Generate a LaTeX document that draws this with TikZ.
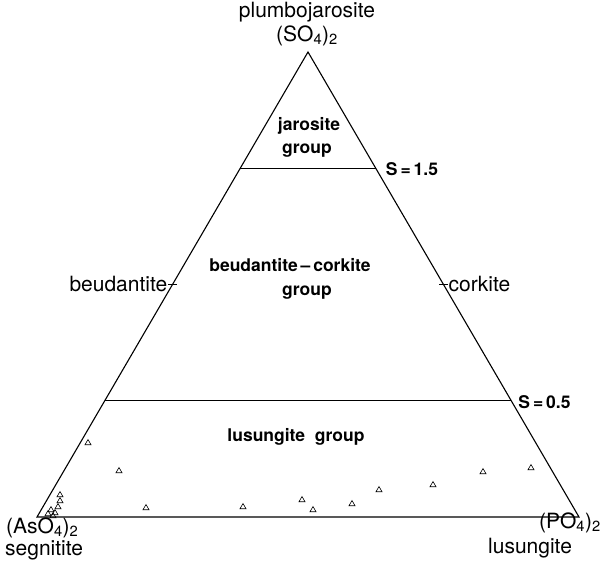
\documentclass[tikz,border=0pt]{standalone}
\usepackage{fontspec}
\setmainfont{TeX Gyre Heros}
\usetikzlibrary{calc}
\usetikzlibrary{positioning}
\usetikzlibrary{shapes}

\begin{document}
\begin{tikzpicture}[x=1pt, y=-1pt]

\def\LabelSize{\fontsize{21}{23}\selectfont}
\def\FieldSize{\fontsize{17.5}{20}\selectfont\bfseries}
\def\MarkSize{7pt}
\def\TickLength{4.5pt}

% Styles
\tikzstyle{corner} =
	[font=\LabelSize, inner sep=0pt]

\tikzstyle{field} =
	[font=\FieldSize, inner sep=0pt]

\tikzstyle{sample} =
	[draw, semithick, regular polygon, regular polygon sides=3,
	 minimum size=\MarkSize, inner sep=0pt]

\tikzstyle{boundary} =
	[line width=1.1pt, line join=miter]

\useasboundingbox (0,0) rectangle (603,561);

% Corners and field boundaries
\coordinate (AsO4) at (37,517);
\coordinate (PO4) at (579,517);
\coordinate (SO4) at (308,52);

\coordinate (S15W) at ($(SO4)!0.25!(AsO4)$);
\coordinate (S15E) at ($(SO4)!0.25!(PO4)$);
\coordinate (S05W) at ($(SO4)!0.75!(AsO4)$);
\coordinate (S05E) at ($(SO4)!0.75!(PO4)$);
\coordinate (Beu) at ($(AsO4)!0.5!(SO4)$);
\coordinate (Cor) at ($(PO4)!0.5!(SO4)$);

\draw[boundary] (AsO4) -- (PO4) -- (SO4) -- cycle;
\draw[boundary] (S15W) -- (S15E);
\draw[boundary] (S05W) -- (S05E);

\draw[thin] ([xshift=-\TickLength]Beu) -- ([xshift=\TickLength]Beu);
\draw[thin] ([xshift=-\TickLength]Cor) -- ([xshift=\TickLength]Cor);

% End members
\node (Plumbo) at (307,12) [corner] {plumbojarosite};
\node (SO4Label) [corner, below=3pt of Plumbo] {(SO\textsubscript{4})\textsubscript{2}};
\node (AsO4Label) at (6,528) [corner, anchor=west] {(AsO\textsubscript{4})\textsubscript{2}};
\node (Segnitite) at (5,550) [corner, anchor=west] {segnitite};
\node (PO4Label) at (601,523) [corner, anchor=east] {(PO\textsubscript{4})\textsubscript{2}};
\node (Lusungite) at (488,548) [corner, anchor=west] {lusungite};
\node (Beudantite) [corner, left=5pt of Beu] {beudantite};
\node (Corkite) [corner, right=5pt of Cor] {corkite};

% Fields
\node (Jarosite) at (309,126) [field] {jarosite};
\node (JarositeGroup) at (307,151) [field] {group};
\node (BeuCor) at (290,265) [field] {beudantite\,--\,corkite};
\node (BeuCorGroup) at (307,293) [field] {group};
\node (LusGroup) at (296,437) [field] {lusungite\ \ group};
\node (S15) [field, anchor=west] at ($(S15E)+(10,1)$) {S\,=\,1.5};
\node (S05) [field, anchor=west] at ($(S05E)+(7,1)$) {S\,=\,0.5};

% Analyses
\foreach \x/\y [count=\i] in {60/495, 60/501, 58/507, 51/510, 55/513,
	48/514, 53/516, 88/443, 119/471, 146/508, 243/507, 302/500, 313/510,
	352/504, 379/490, 433/485, 483/472, 531/468}
	\node (Sample\i) at (\x,\y) [sample] {};

\end{tikzpicture}
\end{document}
